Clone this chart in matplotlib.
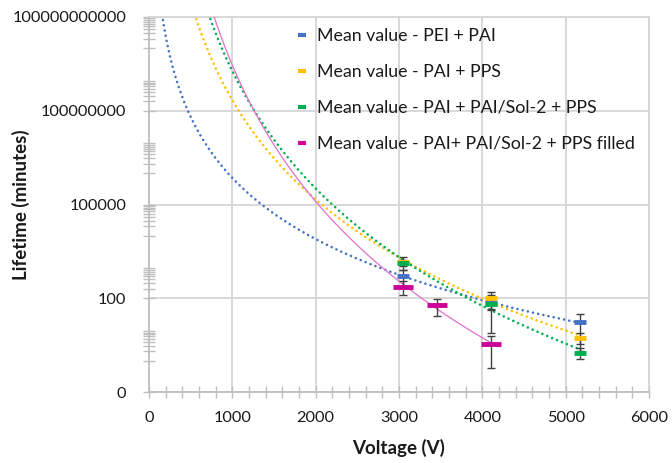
import numpy as np
import matplotlib
matplotlib.use("Agg")
import matplotlib.pyplot as plt
from matplotlib.lines import Line2D
from matplotlib.ticker import FixedLocator, FuncFormatter, MultipleLocator

plt.rcParams['font.family'] = ['Lato', 'DejaVu Sans']

# ---- data ----
series_names = [
    "Mean value - PEI + PAI",
    "Mean value - PAI + PPS",
    "Mean value - PAI + PAI/Sol-2 + PPS",
    "Mean value - PAI+ PAI/Sol-2 + PPS filled",
]
colors = ["#4472C4", "#FFC000", "#00B050", "#CC0099"]

pei_pai_v = [3050, 4100, 5170]
pei_pai_life = [520, 69, 17]
pei_pai_err = [300, 28, 15]

pai_pps_v = [3050, 4100, 5170]
pai_pps_life = [1490, 100, 5.5]
pai_pps_err = [670, 55, 2.1]

pai_sol_v = [3050, 4100, 5170]
pai_sol_life = [1380, 66, 1.8]
pai_sol_err = [310, 58, 0.7]

filled_v = [3050, 3450, 4100]
filled_life = [236, 61, 3.4]
filled_err = [108, 34, 2.8]

xs = [pei_pai_v, pai_pps_v, pai_sol_v, filled_v]
ys = [pei_pai_life, pai_pps_life, pai_sol_life, filled_life]
errs = [pei_pai_err, pai_pps_err, pai_sol_err, filled_err]

y_major = [0.1, 100, 1e5, 1e8, 1e11]
y_major_labels = ["0", "100", "100000", "100000000", "100000000000"]
x_major = [0, 1000, 2000, 3000, 4000, 5000, 6000]

# ---- figure ----
fig = plt.figure(figsize=(6.72, 4.63), dpi=100)
ax = fig.add_axes([149/672, 1 - 392/463, 500/672, 375/463])
ax.set_yscale('log')
ax.set_xlim(0, 6000)
ax.set_ylim(0.1, 1e11)

grid_c = '#d6d6d6'
ax.grid(True, which='major', color=grid_c, lw=1.3, zorder=0)
for s in ['top', 'right']:
    ax.spines[s].set_color(grid_c)
    ax.spines[s].set_linewidth(1.3)
for s in ['left', 'bottom']:
    ax.spines[s].set_color('#bfbfbf')
    ax.spines[s].set_linewidth(1.3)

# trendlines (power fits) and points
markersizes = [8, 8, 8, 14]
for i in range(4):
    xv = np.array(xs[i], float)
    yv = np.array(ys[i], float)
    p = np.polyfit(np.log10(xv), np.log10(yv), 1)
    xt = np.linspace(40, xv.max(), 400)
    yt = 10 ** np.polyval(p, np.log10(xt))
    if i < 3:
        ax.plot(xt, yt, color=colors[i], lw=1.9, linestyle=(0, (0.01, 2.0)),
                dash_capstyle='round', zorder=3)
    else:
        ax.plot(xt, yt, color='#E070CC', lw=0.9, zorder=3)

for i in range(4):
    ax.errorbar(xs[i], ys[i], yerr=errs[i], fmt='none', ecolor='#404040',
                elinewidth=1.0, capsize=3, capthick=1.0, zorder=4)
for i in range(4):
    ax.plot(xs[i], ys[i], linestyle='none', marker='_', color=colors[i],
            markersize=markersizes[i], markeredgewidth=3.5, zorder=5)

# ticks
ax.yaxis.set_major_locator(FixedLocator(y_major))
ax.set_yticklabels(y_major_labels)
minor_y = [m * 10.0 ** d for d in range(0, 11, 2) for m in range(1, 10)]
minor_y = [v for v in minor_y if v not in y_major]
ax.yaxis.set_minor_locator(FixedLocator(minor_y))
ax.yaxis.set_minor_formatter(FuncFormatter(lambda v, p: ""))
ax.set_xticks(x_major)
ax.xaxis.set_minor_locator(MultipleLocator(200))

ax.tick_params(axis='both', which='both', direction='inout', color='#bfbfbf',
               width=1.0, labelsize=11.8, labelcolor='#1a1a1a')
ax.tick_params(axis='both', which='major', length=9)
ax.tick_params(axis='both', which='minor', length=8)
ax.tick_params(axis='y', pad=12)
ax.tick_params(axis='x', pad=9)

ax.set_xlabel("Voltage (V)", fontsize=13.5, fontweight='bold', color='#1a1a1a', labelpad=10)
ax.set_ylabel("Lifetime (minutes)", fontsize=13.5, fontweight='bold', color='#1a1a1a')
ax.yaxis.set_label_coords(-0.238, 0.5)

handles = [Line2D([], [], linestyle='none', marker='_', color=c, markersize=6,
                  markeredgewidth=3) for c in colors]
leg = ax.legend(handles, series_names, loc='upper left',
                bbox_to_anchor=(290/672, 1 - 21/463), bbox_transform=fig.transFigure,
                frameon=False, fontsize=12.8, labelspacing=1.12, handlelength=0.6,
                handletextpad=0.5, borderaxespad=0)
for t in leg.get_texts():
    t.set_color('#1a1a1a')

fig.savefig("out.png", dpi=100)
